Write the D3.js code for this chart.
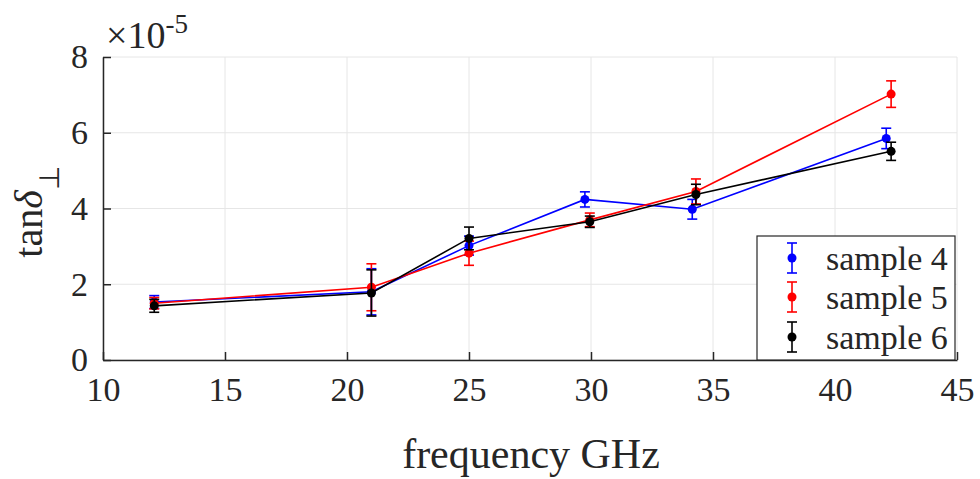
<!DOCTYPE html>
<html>
<head>
<meta charset="utf-8">
<title>tan delta vs frequency</title>
<script src="https://cdn.jsdelivr.net/npm/d3@7"></script>
<style>
  body { margin: 0; background: #fff; }
  text { font-family: "Liberation Serif", "Times New Roman", serif; fill: #262626; }
</style>
</head>
<body>
<script>
// values in units of 1e-5
var freq4 = [12.1, 21.0, 25.0, 29.75, 34.15, 42.1];
var tan4  = [1.53, 1.80, 3.02, 4.24, 3.98, 5.85];
var err4  = [0.17, 0.61, 0.25, 0.20, 0.26, 0.27];

var freq5 = [12.1, 21.0, 25.0, 29.95, 34.3, 42.3];
var tan5  = [1.50, 1.92, 2.82, 3.70, 4.45, 7.02];
var err5  = [0.15, 0.62, 0.32, 0.18, 0.33, 0.35];

var freq6 = [12.1, 21.0, 25.0, 29.95, 34.3, 42.3];
var tan6  = [1.43, 1.77, 3.21, 3.65, 4.37, 5.51];
var err6  = [0.17, 0.61, 0.30, 0.15, 0.27, 0.24];

var xTicks = [10, 15, 20, 25, 30, 35, 40, 45];
var yTicks = [0, 2, 4, 6, 8];
var seriesNames = ["sample 4", "sample 5", "sample 6"];
var seriesColors = ["#0000ff", "#ff0000", "#000000"];

var width = 980, height = 479;
var mLeft = 103, mRight = 957, mTop = 57, mBottom = 360;

var svg = d3.select("body").append("svg")
    .attr("width", width)
    .attr("height", height);

var x = d3.scaleLinear().domain([10, 45]).range([mLeft, mRight]);
var y = d3.scaleLinear().domain([0, 8]).range([mBottom, mTop]);

// grid
var grid = svg.append("g");
grid.selectAll(".gx").data(xTicks).enter().append("line")
    .attr("x1", d => x(d)).attr("x2", d => x(d))
    .attr("y1", mTop).attr("y2", mBottom)
    .attr("stroke", "#e6e6e6").attr("stroke-width", 1);
grid.selectAll(".gy").data(yTicks).enter().append("line")
    .attr("x1", mLeft).attr("x2", mRight)
    .attr("y1", d => y(d)).attr("y2", d => y(d))
    .attr("stroke", "#e6e6e6").attr("stroke-width", 1);

// axes (ticks point inward)
var xAxis = svg.append("g")
    .attr("transform", "translate(0," + mBottom + ")")
    .call(d3.axisBottom(x).tickValues(xTicks).tickSizeInner(-8).tickSizeOuter(0).tickPadding(12));
var yAxis = svg.append("g")
    .attr("transform", "translate(" + mLeft + ",0)")
    .call(d3.axisLeft(y).tickValues(yTicks).tickSizeInner(-8).tickSizeOuter(0).tickPadding(15));

[xAxis, yAxis].forEach(function(a) {
  a.select(".domain").attr("stroke", "#262626").attr("stroke-width", 1.5);
  a.selectAll(".tick line").attr("stroke", "#262626").attr("stroke-width", 1.5);
  a.selectAll(".tick text")
    .style("font-family", "'Liberation Serif', serif")
    .style("font-size", "34px")
    .attr("fill", "#262626");
});
xAxis.selectAll(".tick text").attr("dy", "0.85em");

// series
var series = [
  {f: freq4, v: tan4, e: err4},
  {f: freq5, v: tan5, e: err5},
  {f: freq6, v: tan6, e: err6}
];

var line = d3.line().x(d => x(d.f)).y(d => y(d.v));
var cap = 5;

series.forEach(function(s, i) {
  var pts = s.f.map((f, j) => ({f: f, v: s.v[j], e: s.e[j]}));
  var g = svg.append("g");
  var col = seriesColors[i];
  g.append("path").datum(pts)
    .attr("d", line)
    .attr("fill", "none")
    .attr("stroke", col)
    .attr("stroke-width", 1.6);
  var eb = g.selectAll(".eb").data(pts).enter().append("g");
  eb.append("line")
    .attr("x1", d => x(d.f)).attr("x2", d => x(d.f))
    .attr("y1", d => y(d.v - d.e)).attr("y2", d => y(d.v + d.e))
    .attr("stroke", col).attr("stroke-width", 1.6);
  eb.append("line")
    .attr("x1", d => x(d.f) - cap).attr("x2", d => x(d.f) + cap)
    .attr("y1", d => y(d.v + d.e)).attr("y2", d => y(d.v + d.e))
    .attr("stroke", col).attr("stroke-width", 1.6);
  eb.append("line")
    .attr("x1", d => x(d.f) - cap).attr("x2", d => x(d.f) + cap)
    .attr("y1", d => y(d.v - d.e)).attr("y2", d => y(d.v - d.e))
    .attr("stroke", col).attr("stroke-width", 1.6);
  eb.append("circle")
    .attr("cx", d => x(d.f)).attr("cy", d => y(d.v))
    .attr("r", 4.5).attr("fill", col);
});

// exponent label
var ex = svg.append("text")
    .attr("x", mLeft + 3).attr("y", 48)
    .style("font-size", "38px");
ex.append("tspan").text("\u00d710");
ex.append("tspan").attr("dy", -15).style("font-size", "27px").text("-5");

// y label
var yl = svg.append("text")
    .attr("transform", "translate(42,212) rotate(-90)")
    .attr("text-anchor", "middle")
    .style("font-size", "40px");
yl.append("tspan").text("tan");
yl.append("tspan").style("font-style", "italic").text("\u03b4");
yl.append("tspan").attr("dy", 17).style("font-size", "28px").text("\u22a5");

// x label
svg.append("text")
    .attr("x", 531).attr("y", 468)
    .attr("text-anchor", "middle")
    .style("font-size", "42px")
    .text("frequency GHz");

// legend
var lg = svg.append("g");
lg.append("rect")
    .attr("x", 757).attr("y", 236)
    .attr("width", 198).attr("height", 124)
    .attr("fill", "#fff").attr("stroke", "#262626").attr("stroke-width", 1.2);
var rowY = [258, 297, 337];
var items = lg.selectAll(".li").data(seriesNames).enter().append("g")
    .attr("transform", (d, i) => "translate(792," + rowY[i] + ")");
items.append("line").attr("x1", 0).attr("x2", 0).attr("y1", -15).attr("y2", 15)
    .attr("stroke", (d, i) => seriesColors[i]).attr("stroke-width", 1.6);
items.append("line").attr("x1", -5).attr("x2", 5).attr("y1", -15).attr("y2", -15)
    .attr("stroke", (d, i) => seriesColors[i]).attr("stroke-width", 1.6);
items.append("line").attr("x1", -5).attr("x2", 5).attr("y1", 15).attr("y2", 15)
    .attr("stroke", (d, i) => seriesColors[i]).attr("stroke-width", 1.6);
items.append("circle").attr("r", 4.5).attr("fill", (d, i) => seriesColors[i]);
items.append("text")
    .attr("x", 34).attr("dy", "0.35em")
    .style("font-size", "34px")
    .attr("fill", "#000")
    .text(d => d);
</script>
</body>
</html>
